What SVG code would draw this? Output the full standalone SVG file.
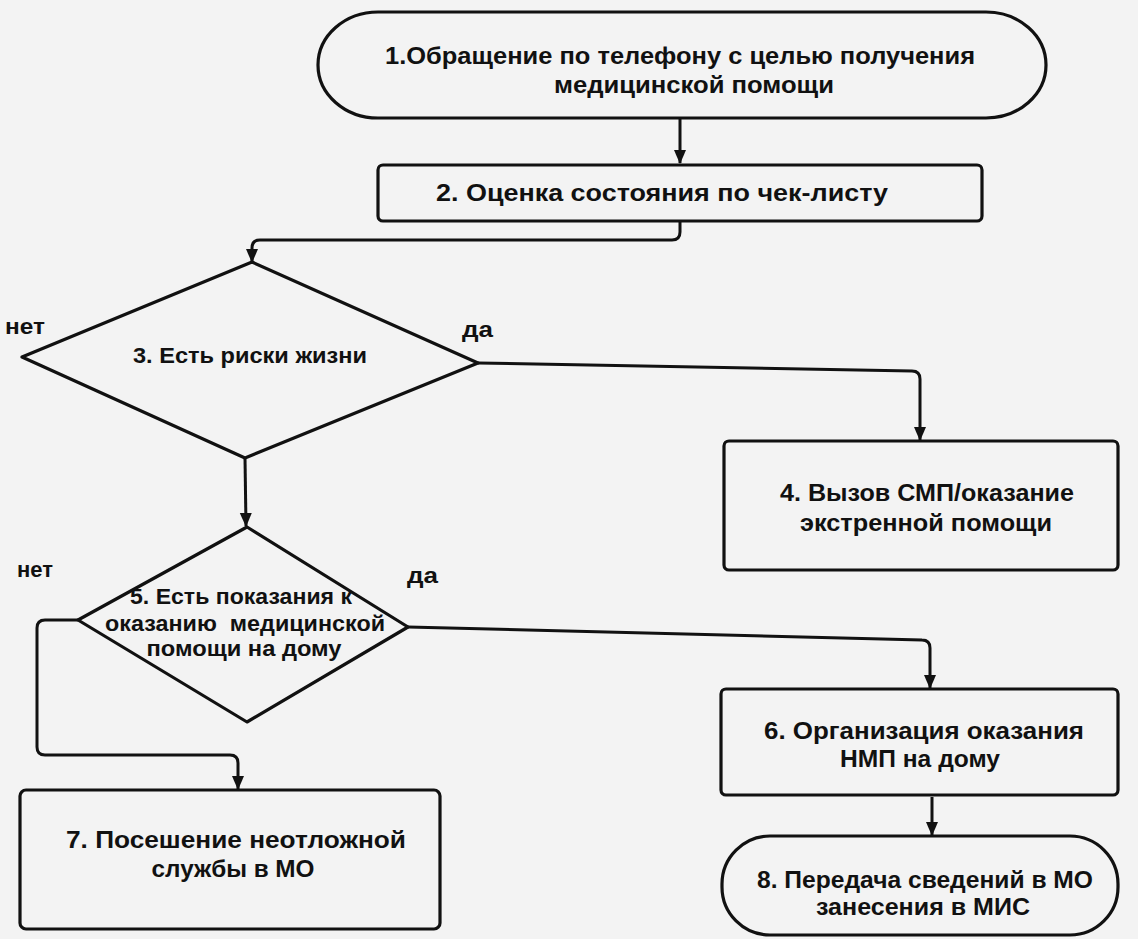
<svg xmlns="http://www.w3.org/2000/svg" width="1138" height="939" viewBox="0 0 1138 939">
<defs>
<marker id="arr" markerWidth="14" markerHeight="20" refX="13" refY="7" orient="auto" markerUnits="userSpaceOnUse" viewBox="0 0 14 14">
<path d="M0,1 L14,7 L0,13 Z" fill="#111"/>
</marker>
<style>
.shape{fill:none;stroke:#111;stroke-width:3.2;stroke-linejoin:round}
.con{fill:none;stroke:#111;stroke-width:3;stroke-linejoin:round}
.t{font-family:"Liberation Sans",Arial,sans-serif;font-weight:bold;fill:#111;text-anchor:middle}
.b{font-size:24px}
.d{font-size:22px}
.lbl{font-family:"Liberation Sans",Arial,sans-serif;font-weight:bold;fill:#111;font-size:22px}
</style>
</defs>
<rect width="1138" height="939" fill="#f3f3f3"/>
<g id="connectors">
<path class="con" d="M680,118 L680,163" marker-end="url(#arr)"/>
<path class="con" d="M680,220 L680,232 Q680,240 672,240 L260,240 Q252,240 252,248 L252,262" marker-end="url(#arr)"/>
<path class="con" d="M478,363 L912,371 Q920,371 920,379 L920,440" marker-end="url(#arr)"/>
<path class="con" d="M245,458 L246,526" marker-end="url(#arr)"/>
<path class="con" d="M408,627 L922,640 Q930,640 930,648 L930,688" marker-end="url(#arr)"/>
<path class="con" d="M78,620 L45,620 Q37,620 37,628 L37,747 Q37,755 45,755 L230,755 Q238,755 238,763 L238,789" marker-end="url(#arr)"/>
<path class="con" d="M932,797 L932,835" marker-end="url(#arr)"/>
</g>
<g id="node1">
<rect class="shape" x="318" y="12" width="728" height="106" rx="60" ry="53"/>
<text class="t b" x="680" y="64" textLength="590" lengthAdjust="spacingAndGlyphs">1.Обращение по телефону с целью получения</text>
<text class="t b" x="694" y="93" textLength="280" lengthAdjust="spacingAndGlyphs">медицинской помощи</text>
</g>
<g id="node2">
<rect class="shape" x="378" y="165" width="604" height="56" rx="5"/>
<text class="t b" x="662" y="201" textLength="452" lengthAdjust="spacingAndGlyphs">2. Оценка состояния по чек-листу</text>
</g>
<g id="node3">
<polygon class="shape" points="252,262 478,363 245,458 22,357"/>
<text class="t d" x="250" y="363" textLength="234" lengthAdjust="spacingAndGlyphs">3. Есть риски жизни</text>
</g>
<text class="lbl" x="5" y="334" textLength="40" lengthAdjust="spacingAndGlyphs">нет</text>
<text class="lbl" x="462" y="337" textLength="31" lengthAdjust="spacingAndGlyphs">да</text>
<g id="node4">
<rect class="shape" x="724" y="441" width="394" height="129" rx="5"/>
<text class="t b" x="927" y="501" textLength="294" lengthAdjust="spacingAndGlyphs">4. Вызов СМП/оказание</text>
<text class="t b" x="926" y="531" textLength="252" lengthAdjust="spacingAndGlyphs">экстренной помощи</text>
</g>
<g id="node5">
<polygon class="shape" points="247,527 408,627 247,722 78,620"/>
<text class="t d" x="241" y="604" textLength="222" lengthAdjust="spacingAndGlyphs">5. Есть показания к</text>
<text class="t d" x="245" y="631" xml:space="preserve" textLength="280" lengthAdjust="spacingAndGlyphs">оказанию  медицинской</text>
<text class="t d" x="244" y="656" textLength="195" lengthAdjust="spacingAndGlyphs">помощи на дому</text>
</g>
<text class="lbl" x="17" y="577" textLength="36" lengthAdjust="spacingAndGlyphs">нет</text>
<text class="lbl" x="407" y="583" textLength="31" lengthAdjust="spacingAndGlyphs">да</text>
<g id="node6">
<rect class="shape" x="721" y="689" width="397" height="106" rx="5"/>
<text class="t b" x="924" y="739" textLength="320" lengthAdjust="spacingAndGlyphs">6. Организация оказания</text>
<text class="t b" x="920" y="767" textLength="160" lengthAdjust="spacingAndGlyphs">НМП на дому</text>
</g>
<g id="node7">
<rect class="shape" x="20" y="790" width="420" height="139" rx="6"/>
<text class="t b" x="236" y="848" textLength="340" lengthAdjust="spacingAndGlyphs">7. Посешение неотложной</text>
<text class="t b" x="233" y="877" textLength="163" lengthAdjust="spacingAndGlyphs">службы в МО</text>
</g>
<g id="node8">
<rect class="shape" x="722" y="836" width="396" height="99" rx="48" ry="48"/>
<text class="t b" x="925" y="888" textLength="336" lengthAdjust="spacingAndGlyphs">8. Передача сведений в МО</text>
<text class="t b" x="923" y="915" textLength="214" lengthAdjust="spacingAndGlyphs">занесения в МИС</text>
</g>
</svg>
